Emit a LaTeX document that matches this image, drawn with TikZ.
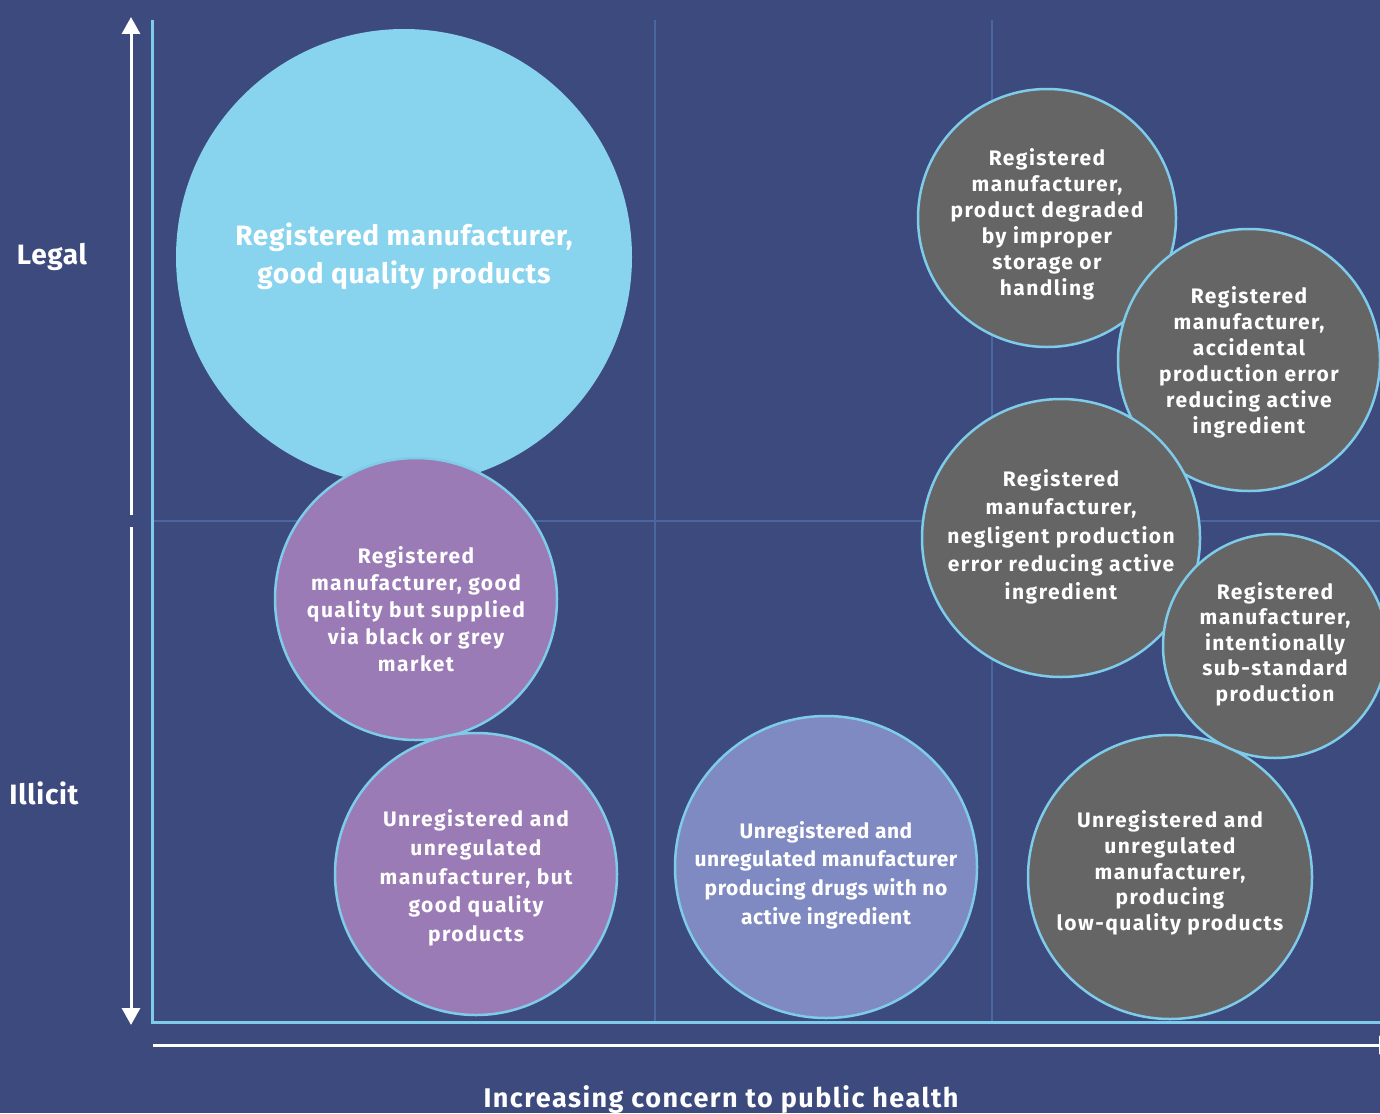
\documentclass[tikz,border=0pt]{standalone}
\usepackage{fontspec}
\setmainfont{Fira Sans}
\newfontfamily\spwide[LetterSpace=7]{Fira Sans}
\newfontfamily\spmid[LetterSpace=5.5]{Fira Sans}
\newfontfamily\spnarrow[LetterSpace=2.5]{Fira Sans}
\usetikzlibrary{arrows.meta}
\definecolor{bgc}{HTML}{3C4A7E}
\definecolor{bigblue}{HTML}{88D3EE}
\definecolor{purp}{HTML}{9A7BB5}
\definecolor{peri}{HTML}{7F8AC3}
\definecolor{greyc}{HTML}{656565}
\definecolor{rim}{HTML}{7ECBEA}
\definecolor{gridc}{HTML}{4A66A0}
\tikzset{
  bubble/.style={circle, inner sep=0pt, draw=rim, line width=2.5pt},
  lbl/.style={align=center, text=white, font=\spwide\bfseries\fontsize{21}{26}\selectfont, inner sep=0pt},
  axis/.style={draw=rim, line width=3pt},
  gridline/.style={draw=gridc, line width=2.5pt},
  warrow/.style={draw=white, line width=3pt, -{Triangle[width=18pt,length=17pt]}},
  sidelbl/.style={text=white, font=\spnarrow\bfseries\fontsize{28}{32}\selectfont, inner sep=0pt}
}
\begin{document}
\begin{tikzpicture}[x=1pt,y=-1pt]
\useasboundingbox (0,0) rectangle (1380,1113);
\clip (0,0) rectangle (1380,1113);
\fill[bgc] (0,0) rectangle (1380,1113);
% grid
\coordinate (g1a) at (152,521); \coordinate (g1b) at (1380,521);
\coordinate (g2a) at (655,20); \coordinate (g2b) at (655,1022);
\coordinate (g3a) at (992,20); \coordinate (g3b) at (992,1022);
\draw[gridline] (g1a) -- (g1b);
\draw[gridline] (g2a) -- (g2b);
\draw[gridline] (g3a) -- (g3b);
% axes
\coordinate (ytop) at (152,20); \coordinate (orig) at (152,1022); \coordinate (xend) at (1380,1022);
\draw[axis] (ytop) -- (orig) -- (xend);
% white arrows
\coordinate (a1s) at (131,515); \coordinate (a1e) at (131,17);
\coordinate (a2s) at (131,527); \coordinate (a2e) at (131,1025);
\coordinate (a3s) at (153,1045); \coordinate (a3e) at (1396,1045);
\draw[warrow] (a1s) -- (a1e);
\draw[warrow] (a2s) -- (a2e);
\draw[warrow] (a3s) -- (a3e);
% side labels
\node[sidelbl] (legal) at (52,257) {Legal};
\node[sidelbl] (illicit) at (44,793) {Illicit};
\node[sidelbl, font=\spmid\bfseries\fontsize{27}{30}\selectfont] (xlab) at (721,1100) {Increasing concern to public health};
% big blue
\node[circle, inner sep=0pt, fill=bigblue, minimum size=456pt] (big) at (404,257) {};
\node[lbl, font=\spnarrow\bfseries\fontsize{28}{38}\selectfont] (bigt) at (404,256) {Registered manufacturer,\\good quality products};
% purple 1
\node[bubble, fill=purp, minimum size=282pt] (p1) at (416,599) {};
\node[lbl, font=\spwide\bfseries\fontsize{21}{27}\selectfont] (p1t) at (416,609) {Registered\\manufacturer, good\\quality but supplied\\via black or grey\\market};
% purple 2
\node[bubble, fill=purp, minimum size=282pt] (p2) at (476,874) {};
\node[lbl, font=\spwide\bfseries\fontsize{21}{28.7}\selectfont] (p2t) at (476,878) {Unregistered and\\unregulated\\manufacturer, but\\good quality\\products};
% periwinkle
\node[bubble, fill=peri, minimum size=302pt] (pw) at (826,867) {};
\node[lbl, font=\spnarrow\bfseries\fontsize{21}{28.7}\selectfont] (pwt) at (826,875) {Unregistered and\\unregulated manufacturer\\producing drugs with no\\active ingredient};
% grey bottom
\node[bubble, fill=greyc, minimum size=284pt] (g5) at (1170,877) {};
\node[lbl, font=\spwide\bfseries\fontsize{21}{25.8}\selectfont] (g5t) at (1170,873) {Unregistered and\\unregulated\\manufacturer,\\producing\\low-quality products};
% grey degraded
\node[bubble, fill=greyc, minimum size=258pt] (g1) at (1047,218) {};
\node[lbl] (g1t) at (1047,224) {Registered\\manufacturer,\\product degraded\\by improper\\storage or\\handling};
% grey accidental
\node[bubble, fill=greyc, minimum size=262pt] (g2) at (1249,360) {};
\node[lbl] (g2t) at (1249,362) {Registered\\manufacturer,\\accidental\\production error\\reducing active\\ingredient};
% grey negligent
\node[bubble, fill=greyc, minimum size=278pt] (g3) at (1061,538) {};
\node[lbl, font=\spwide\bfseries\fontsize{21}{28.3}\selectfont] (g3t) at (1061,537) {Registered\\manufacturer,\\negligent production\\error reducing active\\ingredient};
% grey intentionally
\node[bubble, fill=greyc, minimum size=224pt] (g4) at (1275,646) {};
\node[lbl, font=\spwide\bfseries\fontsize{21}{25.5}\selectfont] (g4t) at (1275,644) {Registered\\manufacturer,\\intentionally\\sub-standard\\production};
\end{tikzpicture}
\end{document}
